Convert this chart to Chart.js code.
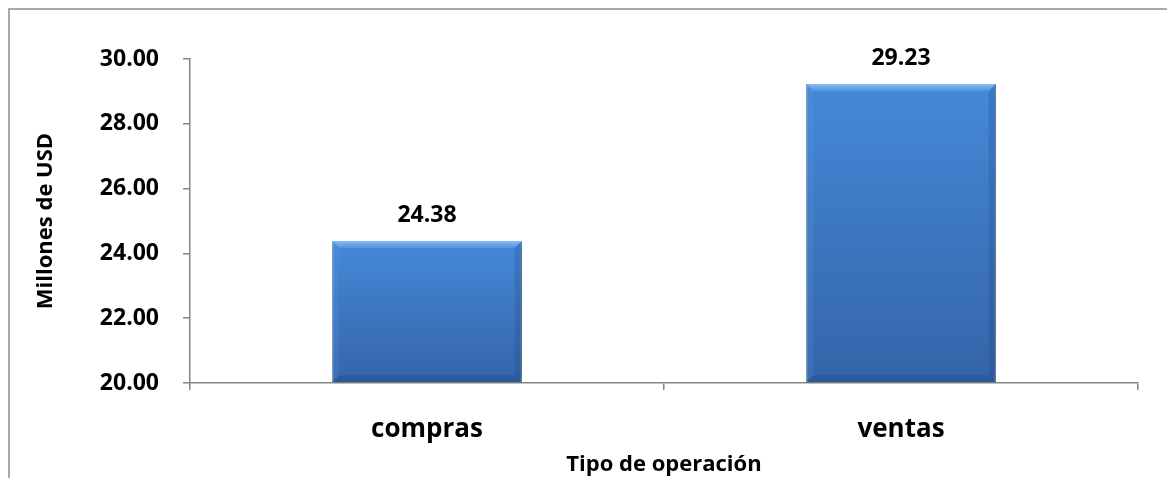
<!DOCTYPE html>
<html>
<head>
<meta charset="utf-8">
<script src="https://cdn.jsdelivr.net/npm/chart.js@4/dist/chart.umd.min.js"></script>
<style>
  html, body { margin: 0; padding: 0; background: #fff; }
  #wrap { position: relative; width: 1167px; height: 478px; }
</style>
</head>
<body>
<div id="wrap"><canvas id="grafico"></canvas></div>
<script>
  var operaciones = ['compras', 'ventas'];
  var montos = [24.38, 29.23];
  var ejeMin = 20, ejeMax = 30, paso = 2;

  var fuente = '"Open Sans", "Liberation Sans", sans-serif';
  var gris = '#868686';

  // marco gris del área del gráfico
  var marco = {
    id: 'marco',
    beforeDraw: function(chart) {
      var ctx = chart.ctx;
      ctx.save();
      ctx.strokeStyle = '#8c8c8c';
      ctx.lineWidth = 1.5;
      ctx.beginPath();
      ctx.moveTo(9, chart.height);
      ctx.lineTo(9, 9);
      ctx.lineTo(chart.width, 9);
      ctx.stroke();
      ctx.restore();
    }
  };

  function trapecio(ctx, pts, color) {
    ctx.fillStyle = color;
    ctx.beginPath();
    ctx.moveTo(pts[0], pts[1]);
    for (var i = 2; i < pts.length; i += 2) ctx.lineTo(pts[i], pts[i + 1]);
    ctx.closePath();
    ctx.fill();
  }

  // sombra y biselado de las barras
  var bisel = {
    id: 'bisel',
    beforeDatasetDraw: function(chart) {
      var ctx = chart.ctx;
      ctx.save();
      ctx.shadowColor = 'rgba(0,0,0,0.35)';
      ctx.shadowBlur = 5;
      ctx.shadowOffsetX = 2;
      ctx.shadowOffsetY = 1;
    },
    afterDatasetDraw: function(chart, args) {
      var ctx = chart.ctx;
      ctx.restore();
      var b = 7;
      args.meta.data.forEach(function(bar) {
        var p = bar.getProps(['x', 'y', 'width', 'base'], true);
        var l = p.x - p.width / 2, r = p.x + p.width / 2, t = p.y;
        var btm = Math.min(p.base, chart.chartArea.bottom);
        ctx.save();
        var g = ctx.createLinearGradient(0, t, 0, t + b);
        g.addColorStop(0, 'rgba(150,205,250,0.85)');
        g.addColorStop(1, 'rgba(110,170,235,0.35)');
        trapecio(ctx, [l, t, r, t, r - b, t + b, l + b, t + b], g);
        trapecio(ctx, [l, t, l + b, t + b, l + b, btm - b, l, btm], 'rgba(110,165,230,0.15)');
        trapecio(ctx, [r, t, r - b, t + b, r - b, btm - b, r, btm], 'rgba(20,50,100,0.18)');
        trapecio(ctx, [l, btm, l + b, btm - b, r - b, btm - b, r, btm], 'rgba(20,50,100,0.22)');
        ctx.restore();
      });
    }
  };

  // valores encima de cada barra
  var valores = {
    id: 'valores',
    afterDatasetsDraw: function(chart) {
      var ctx = chart.ctx;
      var meta = chart.getDatasetMeta(0);
      ctx.save();
      ctx.font = 'bold 23px ' + fuente;
      ctx.fillStyle = '#000';
      ctx.textAlign = 'center';
      ctx.textBaseline = 'alphabetic';
      meta.data.forEach(function(bar, i) {
        ctx.fillText(montos[i].toFixed(2), bar.x, bar.y - 19);
      });
      ctx.restore();
    }
  };

  var chart = new Chart('grafico', {
    type: 'bar',
    data: {
      labels: operaciones,
      datasets: [{
        data: montos,
        base: ejeMin,
        backgroundColor: function(c) {
          var area = c.chart.chartArea;
          var y = c.chart.scales.y;
          if (!area || !y || !c.parsed) return '#3d7cc9';
          var g = c.chart.ctx.createLinearGradient(0, y.getPixelForValue(c.parsed.y), 0, area.bottom);
          g.addColorStop(0, '#4589d9');
          g.addColorStop(1, '#3464a8');
          return g;
        },
        borderColor: '#3a6cae',
        borderWidth: 1,
        barPercentage: 0.4,
        categoryPercentage: 1
      }]
    },
    options: {
      responsive: true,
      maintainAspectRatio: false,
      animation: false,
      layout: { padding: { left: 0, right: 29, top: 59, bottom: 0 } },
      plugins: {
        legend: { display: false },
        tooltip: { enabled: false }
      },
      scales: {
        x: {
          grid: { drawOnChartArea: false, tickLength: 7, color: gris, lineWidth: 1.5 },
          border: { color: gris, width: 1.5 },
          ticks: { color: '#000', padding: 24, font: { family: fuente, size: 26, weight: 'bold' } },
          title: {
            display: true,
            text: 'Tipo de operación',
            color: '#000',
            padding: { top: 0, bottom: 0 },
            font: { family: fuente, size: 22, weight: 'bold' }
          },
          afterFit: function(s) { s.height = 95; }
        },
        y: {
          min: ejeMin,
          max: ejeMax,
          grid: { drawOnChartArea: false, tickLength: 7, color: gris, lineWidth: 1.5 },
          border: { color: gris, width: 1.5 },
          ticks: {
            stepSize: paso,
            color: '#000',
            padding: 24,
            font: { family: fuente, size: 23, weight: 'bold' },
            callback: function(v) { return v.toFixed(2); }
          },
          title: {
            display: true,
            text: 'Millones de USD',
            color: '#000',
            padding: { top: 33, bottom: 0 },
            font: { family: fuente, size: 22, weight: 'bold' }
          },
          afterFit: function(s) { s.width = 190; }
        }
      }
    },
    plugins: [marco, bisel, valores]
  });
</script>
</body>
</html>
